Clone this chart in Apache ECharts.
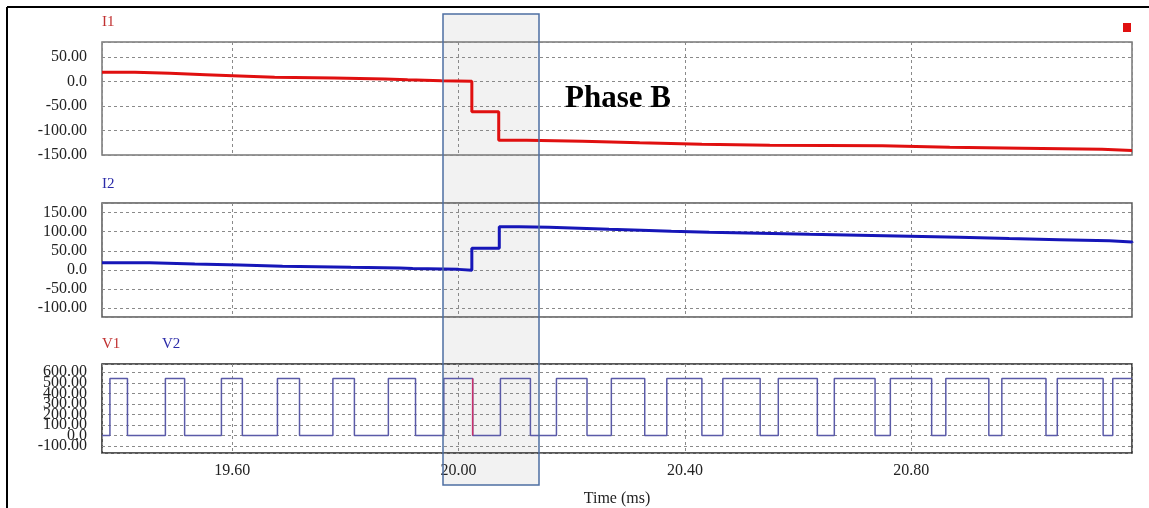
<!DOCTYPE html>
<html>
<head>
<meta charset="utf-8">
<script src="https://cdn.jsdelivr.net/npm/echarts@6/dist/echarts.min.js"></script>
<style>
  html, body { margin: 0; padding: 0; background: #fff; }
  #grafico { width: 1149px; height: 508px; }
</style>
</head>
<body>
<div id="grafico"></div>
<script>
// eixo do tempo (ms)
var tempoMin = 19.37;
var tempoMax = 21.19;

// I1 - corrente fase (degraus)
var i1Tempos = [19.37, 19.428, 19.490, 19.553, 19.613, 19.675, 19.780, 19.870, 19.910, 19.970, 20.0235, 20.071, 20.120, 20.219, 20.320, 20.430, 20.550, 20.749, 20.868, 20.996, 21.137, 21.19];
var i1Valores = [19, 17, 14.3, 11.7, 8.8, 7.2, 5.5, 4, 2, 0.6, -61.7, -120, -122, -125, -128, -130, -131, -134, -136, -138, -140.6, -140.6];

// I2
var i2Tempos = [19.37, 19.454, 19.534, 19.613, 19.689, 19.810, 19.896, 19.919, 20.000, 20.0235, 20.072, 20.107, 20.160, 20.213, 20.266, 20.323, 20.376, 20.443, 20.532, 20.620, 20.708, 20.797, 20.885, 20.973, 21.061, 21.150, 21.19];
var i2Valores = [19, 15.5, 12.8, 9.4, 6.8, 5.2, 4, 1.5, -1, 56.6, 113, 111.6, 109, 106.4, 103.8, 101, 98.6, 96, 93, 90.5, 88, 85.5, 82, 79, 76, 73, 71];

// V2 - pulsos
var v2Tempos = [19.37, 19.384, 19.415, 19.482, 19.516, 19.581, 19.618, 19.680, 19.719, 19.778, 19.816, 19.876, 19.924, 19.974, 20.025, 20.074, 20.127, 20.173, 20.227, 20.270, 20.329, 20.368, 20.430, 20.467, 20.533, 20.565, 20.634, 20.664, 20.736, 20.763, 20.836, 20.861, 20.937, 20.960, 21.038, 21.058, 21.139, 21.156, 21.19];
var v2Valores = [0, 540, 0, 540, 0, 540, 0, 540, 0, 540, 0, 540, 0, 540, 0, 540, 0, 540, 0, 540, 0, 540, 0, 540, 0, 540, 0, 540, 0, 540, 0, 540, 0, 540, 0, 540, 0, 540, 540];

// V1 - só aparece na borda de descida
var v1Tempos = [20.025, 20.025];
var v1Valores = [540, 0];

// rótulos
var titulos = ['I1', 'I2', 'V1', 'V2'];
var rotuloTempo = 'Time (ms)';
var rotuloFase = 'Phase B';

var fonte = "'Liberation Serif', 'Times New Roman', serif";

function pares(tempos, valores) {
    var saida = [];
    for (var i = 0; i < tempos.length; i++) {
        saida.push([tempos[i], valores[i]]);
    }
    return saida;
}

function formataY(passo) {
    return function (v) {
        if (Math.abs(v) < 1e-9) return '0.0';
        if (Math.abs(v / passo - Math.round(v / passo)) > 1e-6) return '';
        return v.toFixed(2);
    };
}

function formataX(v) {
    if (Math.abs(v / 0.4 - Math.round(v / 0.4)) > 1e-6) return '';
    return v.toFixed(2);
}

var linhaGrade = { show: true, lineStyle: { color: '#8a8a8a', type: [3, 3], width: 1 } };

function eixoX(idx, mostraRotulo) {
    return {
        type: 'value',
        gridIndex: idx,
        min: tempoMin,
        max: tempoMax,
        minInterval: 0.4,
        maxInterval: 0.4,
        axisLine: { show: false },
        axisTick: { show: false },
        splitLine: linhaGrade,
        axisLabel: {
            show: mostraRotulo,
            formatter: formataX,
            color: '#222',
            fontFamily: fonte,
            fontSize: 16,
            margin: 10
        },
        name: mostraRotulo ? rotuloTempo : '',
        nameLocation: 'middle',
        nameGap: 38,
        nameTextStyle: { color: '#222', fontFamily: fonte, fontSize: 16 }
    };
}

function eixoY(idx, min, max, passo) {
    return {
        type: 'value',
        gridIndex: idx,
        min: min,
        max: max,
        minInterval: passo,
        maxInterval: passo,
        axisLine: { show: false },
        axisTick: { show: false },
        splitLine: linhaGrade,
        axisLabel: {
            formatter: formataY(passo),
            color: '#222',
            fontFamily: fonte,
            fontSize: 16,
            margin: 15
        }
    };
}

var myChart = echarts.init(document.getElementById('grafico'));

var option = {
    animation: false,
    backgroundColor: '#fff',
    grid: [
        { left: 102, right: 17, top: 42, height: 113, show: true, borderColor: '#777', borderWidth: 1.5 },
        { left: 102, right: 17, top: 203, height: 114, show: true, borderColor: '#555', borderWidth: 1.5 },
        { left: 102, right: 17, top: 364, height: 89, show: true, borderColor: '#222', borderWidth: 1.5 }
    ],
    xAxis: [eixoX(0, false), eixoX(1, false), eixoX(2, true)],
    yAxis: [eixoY(0, -150, 81, 50), eixoY(1, -123, 175, 50), eixoY(2, -165, 678, 100)],
    series: [
        {
            name: 'I1', type: 'line', xAxisIndex: 0, yAxisIndex: 0, step: 'end',
            showSymbol: false, lineStyle: { color: '#e01010', width: 3 },
            data: pares(i1Tempos, i1Valores)
        },
        {
            name: 'I2', type: 'line', xAxisIndex: 1, yAxisIndex: 1, step: 'end',
            showSymbol: false, lineStyle: { color: '#1616b8', width: 3 },
            data: pares(i2Tempos, i2Valores)
        },
        {
            name: 'V2', type: 'line', xAxisIndex: 2, yAxisIndex: 2, step: 'end',
            showSymbol: false, lineStyle: { color: '#5a5aa8', width: 1.5 },
            data: pares(v2Tempos, v2Valores)
        },
        {
            name: 'V1', type: 'line', xAxisIndex: 2, yAxisIndex: 2, z: 3,
            showSymbol: false, lineStyle: { color: '#c8306a', width: 1.5 },
            data: pares(v1Tempos, v1Valores)
        }
    ],
    graphic: [
        // moldura
        { type: 'line', shape: { x1: 7, y1: 7, x2: 1149, y2: 7 }, style: { stroke: '#000', lineWidth: 2 } },
        { type: 'line', shape: { x1: 7, y1: 7, x2: 7, y2: 508 }, style: { stroke: '#000', lineWidth: 2 } },
        // destaque
        { type: 'rect', z: -10, shape: { x: 443, y: 14, width: 96, height: 471 }, style: { fill: '#f2f2f2' } },
        { type: 'rect', z: 50, shape: { x: 443, y: 14, width: 96, height: 471 }, style: { fill: 'none', stroke: '#4d6fa3', lineWidth: 1.5 } },
        // titulos
        { type: 'text', left: 102, top: 15, style: { text: titulos[0], fill: '#c03030', font: '15px ' + fonte } },
        { type: 'text', left: 102, top: 177, style: { text: titulos[1], fill: '#2a2aa8', font: '15px ' + fonte } },
        { type: 'text', left: 102, top: 337, style: { text: titulos[2], fill: '#c03030', font: '15px ' + fonte } },
        { type: 'text', left: 162, top: 337, style: { text: titulos[3], fill: '#2a2aa8', font: '15px ' + fonte } },
        // marcador vermelho
        { type: 'rect', shape: { x: 1123, y: 23, width: 8, height: 9 }, style: { fill: '#e01010' } },
        { type: 'text', z: 60, x: 565, y: 98.5, style: { text: rotuloFase, fill: '#000', font: 'bold 31px ' + fonte, verticalAlign: 'middle', align: 'left' } }
    ]
};

myChart.setOption(option);
</script>
</body>
</html>
